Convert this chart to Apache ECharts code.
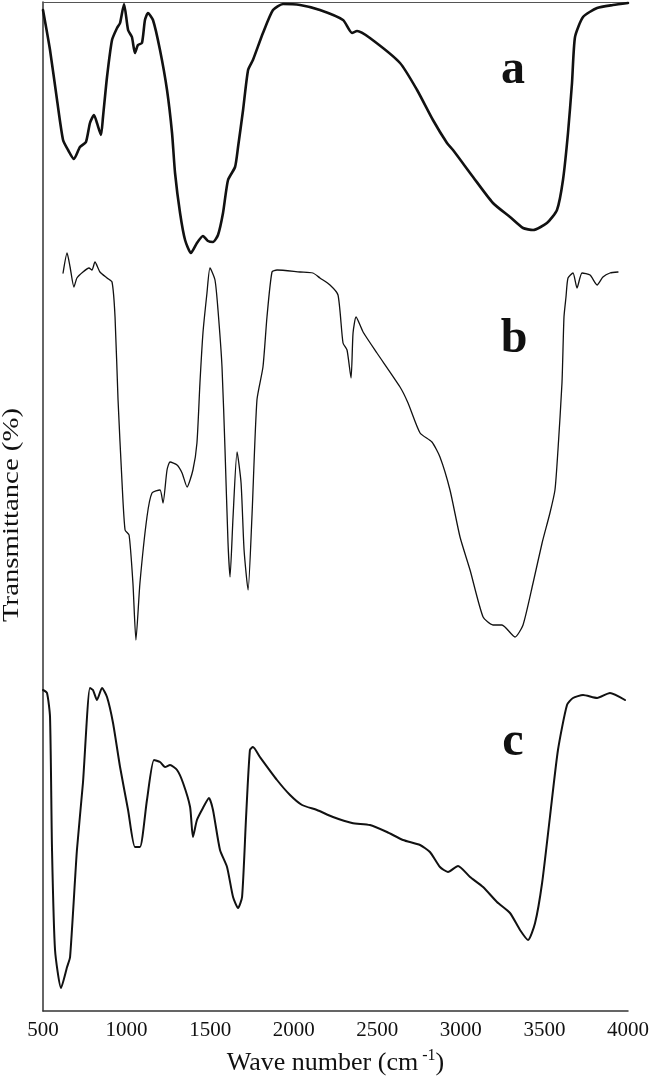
<!DOCTYPE html>
<html>
<head>
<meta charset="utf-8">
<script src="https://cdn.jsdelivr.net/npm/echarts@6/dist/echarts.min.js"></script>
<style>
html,body{margin:0;padding:0;background:#fff;}
#chart{width:649px;height:1082px;}
</style>
</head>
<body>
<div id="chart"></div>
<script>
// Wave numbers (cm-1) and transmittance (arbitrary, offset units)
const curveA = [
[500,1002],[542,962],[584,912],[620,872],[650,862],[685,853],[721,865],[757,870],[781,889],[805,897],
[823,889],[847,877],[859,895],[883,935],[913,972],[943,984],[961,989],[985,1008],[1009,982],[1032,975],
[1050,959],[1068,967],[1092,969],[1110,992],[1128,999],[1158,992],[1200,962],[1242,922],[1272,879],[1290,839],
[1320,799],[1350,772],[1385,759],[1421,769],[1457,776],[1487,771],[1517,770],[1547,777],[1577,799],[1607,832],
[1649,845],[1667,865],[1697,902],[1727,942],[1756,952],[1816,979],[1876,1002],[1936,1008],[2038,1007],[2157,1002],
[2295,992],[2349,979],[2379,981],[2456,974],[2636,949],[2738,922],[2833,892],[2917,869],[2953,862],[3073,835],
[3192,809],[3294,795],[3372,784],[3432,782],[3515,789],[3575,802],[3611,832],[3641,879],[3665,929],[3683,975],
[3731,995],[3815,1004],[3910,1007],[4000,1009]
];
const curveB = [
[620,739],[644,759],[662,745],[685,725],[703,734],[739,740],[775,744],[793,742],[811,750],[841,740],
[883,734],[913,730],[931,695],[949,612],[973,529],[991,482],[1015,477],[1038,429],[1056,372],[1080,429],
[1122,495],[1152,519],[1200,522],[1218,509],[1242,542],[1260,550],[1302,547],[1332,539],[1362,525],[1397,542],
[1421,569],[1439,629],[1457,679],[1481,719],[1499,744],[1529,732],[1547,702],[1571,645],[1589,562],[1607,469],
[1619,435],[1637,495],[1661,560],[1685,529],[1703,462],[1727,422],[1750,495],[1780,612],[1816,645],[1840,695],
[1870,740],[1900,742],[2038,740],[2115,739],[2157,734],[2217,727],[2265,717],[2295,669],[2319,662],[2343,634],
[2355,679],[2373,695],[2415,680],[2498,659],[2636,625],[2684,609],[2756,579],[2827,570],[2875,555],[2935,522],
[2995,475],[3055,442],[3133,395],[3192,387],[3246,387],[3324,375],[3372,387],[3432,429],[3486,469],[3533,499],
[3563,522],[3581,562],[3605,629],[3617,695],[3629,715],[3641,734],[3671,739],[3695,724],[3725,739],[3773,737],
[3815,727],[3850,735],[3892,739],[3940,740]
];
const curveC = [
[500,322],[524,319],[542,295],[554,162],[572,62],[608,24],[644,45],[662,55],[703,162],[739,229],
[781,324],[799,322],[823,312],[853,324],[883,315],[919,289],[961,245],[1009,202],[1050,165],[1080,165],
[1122,212],[1164,252],[1200,250],[1230,245],[1260,247],[1302,242],[1338,229],[1380,205],[1397,175],[1421,192],
[1457,204],[1493,214],[1517,202],[1559,162],[1601,145],[1637,115],[1667,104],[1691,115],[1715,195],[1738,262],
[1756,265],[1798,255],[1900,232],[1978,217],[2050,207],[2139,202],[2235,195],[2349,189],[2456,187],[2558,180],
[2654,172],[2756,167],[2815,160],[2875,145],[2923,140],[2983,146],[3055,135],[3133,125],[3216,110],[3294,99],
[3354,82],[3402,72],[3444,89],[3486,129],[3533,195],[3581,262],[3635,307],[3671,314],[3731,317],[3815,314],
[3892,319],[3982,312]
];
const xTicks = [500,1000,1500,2000,2500,3000,3500,4000];
const curveLabels = ['a','b','c'];
const xTitle = 'Wave number (cm';
const yTitle = 'Transmittance (%)';

const chart = echarts.init(document.getElementById('chart'), null, {renderer:'canvas'});
const serif = '"Liberation Serif","Times New Roman",serif';
function line(data, w){
  return {type:'line', data:data, symbol:'none', smooth:0.2, animation:false,
    lineStyle:{color:'#111', width:w, join:'round', cap:'round'}};
}
chart.setOption({
  animation:false,
  backgroundColor:'#fff',
  grid:{left:43, right:21, top:2, bottom:71, containLabel:false, outerBoundsMode:'none'},
  xAxis:[{
    type:'value', min:xTicks[0], max:xTicks[xTicks.length-1], interval:500,
    axisLine:{show:true, lineStyle:{color:'#333', width:1.5}},
    axisTick:{show:false}, splitLine:{show:false},
    axisLabel:{color:'#111', fontFamily:serif, fontSize:21, margin:9,
      formatter:function(v){return String(v);}},
    name:'{t|' + xTitle + '}{s| -1}{t|)}', nameLocation:'middle', nameGap:37, nameMoveOverlap:false,
    nameTextStyle:{rich:{
      t:{fontFamily:serif, fontSize:26, color:'#111', lineHeight:30},
      s:{fontFamily:serif, fontSize:16, color:'#111', verticalAlign:'top', lineHeight:30, padding:[0,0,8,0]}
    }}
  },{
    type:'value', position:'top', min:xTicks[0], max:xTicks[xTicks.length-1],
    axisLine:{show:true, lineStyle:{color:'#555', width:1.2}},
    axisTick:{show:false}, axisLabel:{show:false}, splitLine:{show:false}
  }],
  yAxis:{
    type:'value', min:1, max:1010,
    axisLine:{show:true, lineStyle:{color:'#333', width:1.5}},
    axisTick:{show:false}, axisLabel:{show:false}, splitLine:{show:false}
  },
  graphic:[
    {type:'text', x:12, y:515, rotation:Math.PI/2, scaleX:1.2,
     style:{text:yTitle, font:'24px ' + serif, fill:'#111', align:'center', verticalAlign:'middle'}},
    {type:'text', x:513, y:71, style:{text:curveLabels[0], font:'bold 48px ' + serif, fill:'#111', align:'center', verticalAlign:'middle'}},
    {type:'text', x:514, y:340, style:{text:curveLabels[1], font:'bold 48px ' + serif, fill:'#111', align:'center', verticalAlign:'middle'}},
    {type:'text', x:513, y:743, style:{text:curveLabels[2], font:'bold 48px ' + serif, fill:'#111', align:'center', verticalAlign:'middle'}}
  ],
  series:[line(curveA, 2.6), line(curveB, 1.3), line(curveC, 2.0)]
});
</script>
</body>
</html>
